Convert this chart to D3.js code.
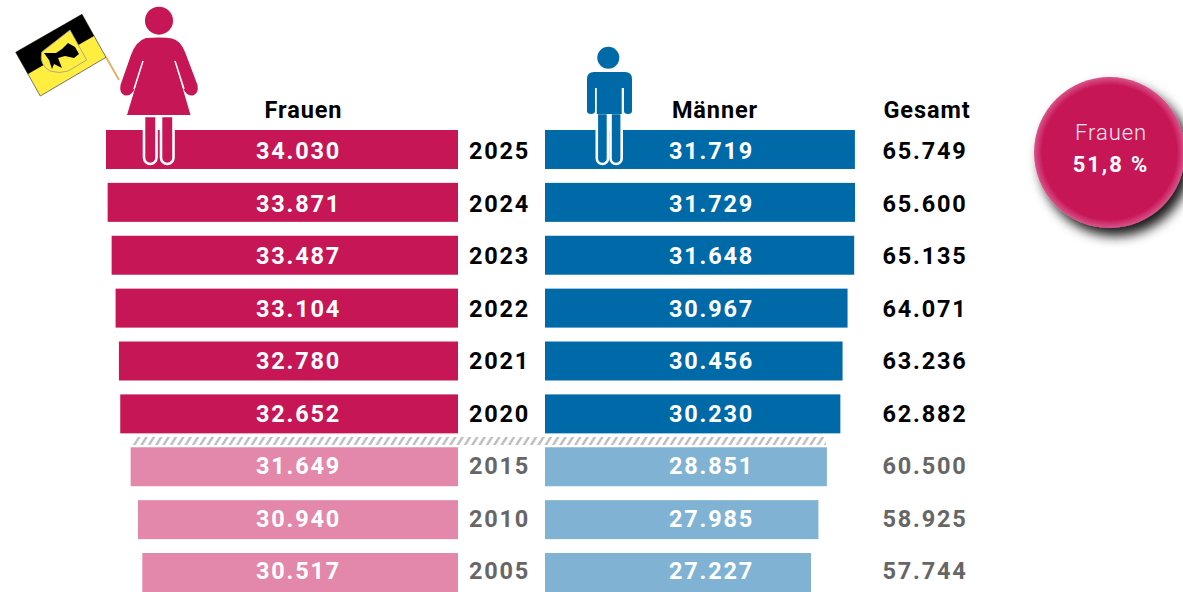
<!DOCTYPE html>
<html><head><meta charset="utf-8">
<script src="https://cdn.jsdelivr.net/npm/d3@7"></script>
<style>html,body{margin:0;background:#fff}svg{display:block}text{font-family:Roboto,sans-serif}</style>
</head><body><svg id="c" width="1183" height="592"></svg>
<script>
const years=[2025,2024,2023,2022,2021,2020,2015,2010,2005];
const frauen=[34030,33871,33487,33104,32780,32652,31649,30940,30517];
const maenner=[31719,31729,31648,30967,30456,30230,28851,27985,27227];
const gesamt=[65749,65600,65135,64071,63236,62882,60500,58925,57744];
const headers=["Frauen","Männer","Gesamt"];
const share=["Frauen","51,8 %"];
const fmt=d=>d3.format(",")(d).replace(",",".");
const svg=d3.select("#c");
const defs=svg.append("defs");
const y=d3.scaleBand().domain(years).range([130,592]).paddingInner(0.263).paddingOuter(0);
const yText=d3.scalePoint().domain(years).range([159.3,579.3]);
const xF=d3.scaleLinear().domain([0,34030]).range([458,106]);
const xM=d3.scaleLinear().domain([0,31729]).range([545,855]);
const recent=d=>d>=2020;
const C={f:"#c61656",fl:"#e388ab",m:"#0069a8",ml:"#80b2d3"};
years.forEach((yr,i)=>{
  svg.append("rect").attr("x",xF(frauen[i])).attr("y",y(yr)).attr("width",458-xF(frauen[i])).attr("height",y.bandwidth()).attr("fill",recent(yr)?C.f:C.fl);
  svg.append("rect").attr("x",545).attr("y",y(yr)).attr("width",xM(maenner[i])-545).attr("height",y.bandwidth()).attr("fill",recent(yr)?C.m:C.ml);
  const ty=yText(yr);
  const t=(x,s,fill)=>svg.append("text").attr("x",x).attr("y",ty).attr("text-anchor","middle").attr("font-size",23.5).attr("font-weight",700).attr("letter-spacing",1.8).attr("fill",fill).text(s);
  t(298.5,fmt(frauen[i]),"#fff");
  t(711.5,fmt(maenner[i]),"#fff");
  t(499.5,yr,recent(yr)?"#000":"#666");
  t(925,fmt(gesamt[i]),recent(yr)?"#000":"#666");
});
// headers
[[303.5,headers[0]],[715,headers[1]],[927,headers[2]]].forEach(([x,s])=>svg.append("text").attr("x",x).attr("y",118).attr("text-anchor","middle").attr("font-size",23.5).attr("font-weight",700).attr("letter-spacing",.9).attr("fill","#000").text(s));
// hatch
const p=defs.append("pattern").attr("id","h").attr("patternUnits","userSpaceOnUse").attr("width",7.35).attr("height",8).attr("x",133).attr("y",437);
p.append("path").attr("d","M1 8.5L6.5 -0.5").attr("stroke","#bdbdbd").attr("stroke-width",2.4);
svg.append("rect").attr("x",133).attr("y",437).attr("width",693).attr("height",8).attr("fill","url(#h)");
// flag
const fl=svg.append("g");
fl.append("path").attr("d","M106 57L119 80").attr("stroke","#f0a860").attr("stroke-width",1.8);
fl.append("path").attr("d","M15.7 52.3L82 14.3L106 57.3L40.3 96Z").attr("fill","#ffed3f").attr("stroke","#555").attr("stroke-width",.8);
fl.append("path").attr("d","M15.7 52.3L82 14.3L94 36L28 74Z").attr("fill","#000");
fl.append("path").attr("d","M41.7 52L70 30L86.7 60L68 71Q60 74 50 71Q39 65 41.7 52Z").attr("fill","#ffed3f").attr("stroke","#999").attr("stroke-width",.8);
fl.append("path").attr("d","M44 53L56 53L62 49L68 43L75 47L79 54L74 58L65 56L58 58L62 68L54 64L52 69L49 60Z").attr("fill","#000");
// woman
const w=svg.append("g");
const leg=(g,x,w2,top,bot,c)=>g.append("path").attr("d",`M${x} ${top}V${bot-w2/2}a${w2/2} ${w2/2} 0 0 0 ${w2} 0V${top}Z`).attr("fill",c).attr("stroke","#fff").attr("stroke-width",2.6);
leg(w,144,12.5,116,164,C.f);
leg(w,161,12.5,116,164,C.f);
w.append("circle").attr("cx",159).attr("cy",20.7).attr("r",14).attr("fill",C.f);
w.append("path").attr("d","M146 38Q152 37.5 159 37.5Q167 37.5 172 38.5Q180 40 185 52L197.5 85Q199 93 193 95.5Q187 96 184 90L175 62L190.5 115H127L143 62L134 90Q131 96 125 95.5Q119 93 120.5 85L131 55Q136 41 146 38Z").attr("fill",C.f);
w.append("path").attr("d","M143 61L134 89M175 61L184 89").attr("stroke","#fff").attr("stroke-width",1.5).attr("fill","none");
// man
const m=svg.append("g");
leg(m,596.8,11.2,113,164,C.m);
leg(m,610.5,11.2,113,164,C.m);
m.append("circle").attr("cx",608.3).attr("cy",57.7).attr("r",11).attr("fill",C.m);
m.append("path").attr("d","M587 79Q587 72 594 72H625Q632 72 632 79V88H587Z").attr("fill",C.m);
m.append("path").attr("d","M587 86H595V111Q595 114 591 114Q587 114 587 111ZM624 86H632V111Q632 114 628 114Q624 114 624 111ZM596.8 86H621.7V114H596.8Z").attr("fill",C.m);
// badge
const g=defs.append("radialGradient").attr("id","rg");
g.append("stop").attr("offset","0.89").attr("stop-color",C.f);
g.append("stop").attr("offset","1").attr("stop-color","#d9548a");
const fi=defs.append("filter").attr("id","sh").attr("x","-30%").attr("y","-30%").attr("width","160%").attr("height","160%");
fi.append("feDropShadow").attr("dx",6).attr("dy",8).attr("stdDeviation",6).attr("flood-color","#000").attr("flood-opacity",.9);
svg.append("circle").attr("cx",1109.5).attr("cy",152.5).attr("r",75.5).attr("fill","url(#rg)").attr("filter","url(#sh)");
svg.append("text").attr("x",1111).attr("y",140).attr("text-anchor","middle").attr("font-size",22).attr("font-weight",300).attr("fill","#fbe6ee").attr("letter-spacing",.9).text(share[0]);
svg.append("text").attr("x",1111).attr("y",171.5).attr("text-anchor","middle").attr("font-size",22).attr("font-weight",700).attr("fill","#fff").attr("letter-spacing",1.9).text(share[1]);
</script></body></html>
